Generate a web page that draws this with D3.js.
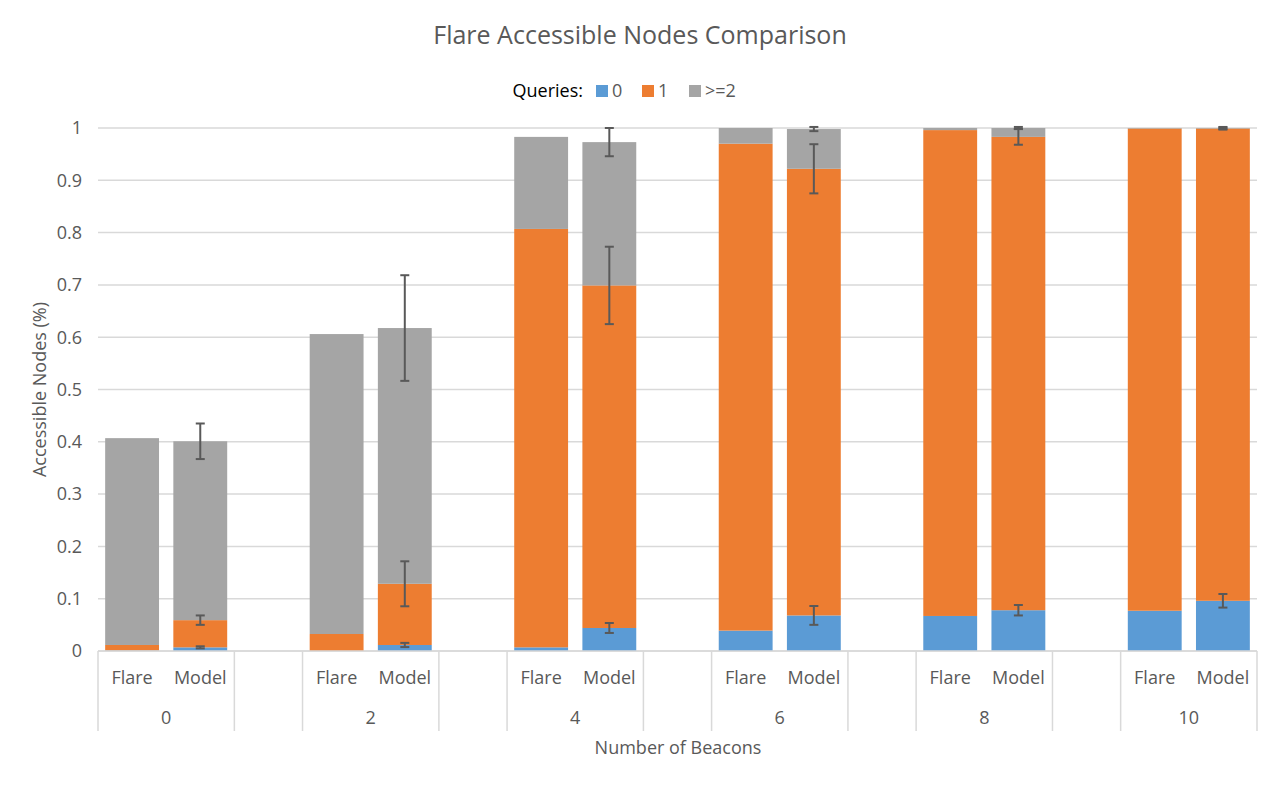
<!DOCTYPE html>
<html>
<head>
<meta charset="utf-8">
<script src="https://cdn.jsdelivr.net/npm/d3@7"></script>
<style>
  body { margin: 0; background: #fff; }
  text { font-family: "Open Sans", "Noto Sans", sans-serif; fill: #595959; }
</style>
</head>
<body>
<div id="chart"></div>
<script>
// Groups along the x-axis (number of beacons) and the two sources in each.
var groups = ["0", "2", "4", "6", "8", "10"];
var sources = ["Flare", "Model"];
var seriesNames = ["0", "1", ">=2"];
var seriesColors = ["#5B9BD5", "#ED7D31", "#A5A5A5"];

// Stacked segment sizes, one value per group.
var flareQ0 = [0.001, 0.000, 0.007, 0.039, 0.067, 0.077];
var flareQ1 = [0.0105, 0.0325, 0.800, 0.931, 0.929, 0.922];
var flareQ2 = [0.3955, 0.5735, 0.176, 0.030, 0.004, 0.001];

var modelQ0 = [0.007, 0.0115, 0.044, 0.068, 0.078, 0.096];
var modelQ1 = [0.052, 0.117, 0.655, 0.854, 0.905, 0.903];
var modelQ2 = [0.342, 0.489, 0.274, 0.076, 0.017, 0.001];

// Model error bars (+/-) drawn at the top of each stacked series.
var modelErr0 = [0.002, 0.004, 0.0095, 0.018, 0.010, 0.013];
var modelErr1 = [0.009, 0.043, 0.074, 0.047, 0.015, 0.002];
var modelErr2 = [0.034, 0.101, 0.027, 0.004, 0.002, 0.002];

var yTicks = [0, 0.1, 0.2, 0.3, 0.4, 0.5, 0.6, 0.7, 0.8, 0.9, 1];

var width = 1280, height = 786;
var plotLeft = 98, plotRight = 1257, plotTop = 128, plotBottom = 651;

var svg = d3.select("#chart").append("svg")
    .attr("width", width)
    .attr("height", height);

// Build the slot list: Flare, Model for each group, with an empty slot between groups.
var slots = [];
groups.forEach(function(g, gi) {
    sources.forEach(function(s) { slots.push({key: g + "|" + s, group: g, gi: gi, source: s}); });
    if (gi < groups.length - 1) slots.push({key: "gap" + gi, group: "", gi: gi, source: null});
});

var x = d3.scaleBand()
    .domain(slots.map(function(d) { return d.key; }))
    .range([plotLeft, plotRight])
    .paddingInner(0.21)
    .paddingOuter(0.105);

var y = d3.scaleLinear().domain([0, 1]).range([plotBottom, plotTop]);

// Gridlines
svg.append("g")
    .selectAll("line")
    .data(yTicks)
    .enter().append("line")
    .attr("x1", plotLeft).attr("x2", plotRight)
    .attr("y1", function(d) { return y(d); })
    .attr("y2", function(d) { return y(d); })
    .attr("stroke", "#D9D9D9")
    .attr("stroke-width", 1.5);

// Y tick labels
svg.append("g")
    .selectAll("text")
    .data(yTicks)
    .enter().append("text")
    .attr("x", 82)
    .attr("y", function(d) { return y(d); })
    .attr("dy", "0.35em")
    .attr("text-anchor", "end")
    .style("font-size", "18px")
    .text(function(d) { return d; });

// Stack the data
var rows = [];
groups.forEach(function(g, i) {
    rows.push({key: g + "|Flare", v: [flareQ0[i], flareQ1[i], flareQ2[i]], err: null});
    rows.push({key: g + "|Model", v: [modelQ0[i], modelQ1[i], modelQ2[i]], err: [modelErr0[i], modelErr1[i], modelErr2[i]]});
});

rows.forEach(function(r) {
    var base = 0;
    r.segs = r.v.map(function(val, si) {
        var s = {y0: base, y1: base + val, si: si};
        base += val;
        return s;
    });
});

var barG = svg.append("g");
rows.forEach(function(r) {
    barG.selectAll(null)
        .data(r.segs)
        .enter().append("rect")
        .attr("x", x(r.key))
        .attr("width", x.bandwidth())
        .attr("y", function(d) { return y(d.y1); })
        .attr("height", function(d) { return y(d.y0) - y(d.y1); })
        .attr("fill", function(d) { return seriesColors[d.si]; });
});

// Error bars
var errG = svg.append("g");
var capW = 4.5;
rows.filter(function(r) { return r.err; }).forEach(function(r) {
    var cx = x(r.key) + x.bandwidth() / 2;
    r.segs.forEach(function(s, si) {
        var e = r.err[si];
        var hi = y(s.y1 + e), lo = y(s.y1 - e);
        errG.append("line").attr("x1", cx).attr("x2", cx).attr("y1", hi).attr("y2", lo);
        errG.append("line").attr("x1", cx - capW).attr("x2", cx + capW).attr("y1", hi).attr("y2", hi);
        errG.append("line").attr("x1", cx - capW).attr("x2", cx + capW).attr("y1", lo).attr("y2", lo);
    });
});
errG.selectAll("line").attr("stroke", "#595959").attr("stroke-width", 2);

// Category axis: baseline, separators, labels
var axisG = svg.append("g");
axisG.append("line")
    .attr("x1", plotLeft).attr("x2", plotRight)
    .attr("y1", plotBottom).attr("y2", plotBottom)
    .attr("stroke", "#D9D9D9").attr("stroke-width", 1.5);

var step = x.step();
var boundaries = [plotLeft];
slots.forEach(function(s, i) {
    if (s.source === "Model" || s.source === null) boundaries.push(plotLeft + (i + 1) * step);
});
axisG.selectAll(null)
    .data(boundaries)
    .enter().append("line")
    .attr("x1", function(d) { return d; }).attr("x2", function(d) { return d; })
    .attr("y1", plotBottom).attr("y2", 731)
    .attr("stroke", "#D9D9D9").attr("stroke-width", 1.5);

axisG.selectAll(null)
    .data(slots.filter(function(s) { return s.source; }))
    .enter().append("text")
    .attr("x", function(d) { return x(d.key) + x.bandwidth() / 2; })
    .attr("y", 678)
    .attr("dy", "0.35em")
    .attr("text-anchor", "middle")
    .style("font-size", "18px")
    .text(function(d) { return d.source; });

axisG.selectAll(null)
    .data(groups)
    .enter().append("text")
    .attr("x", function(g) {
        return (x(g + "|Flare") + x(g + "|Model") + x.bandwidth()) / 2;
    })
    .attr("y", 718)
    .attr("dy", "0.35em")
    .attr("text-anchor", "middle")
    .style("font-size", "18px")
    .text(function(g) { return g; });

// Title
svg.append("text")
    .attr("x", 640).attr("y", 35)
    .attr("dy", "0.35em")
    .attr("text-anchor", "middle")
    .style("font-size", "25px")
    .text("Flare Accessible Nodes Comparison");

// Axis titles
svg.append("text")
    .attr("x", 678).attr("y", 748)
    .attr("dy", "0.35em")
    .attr("text-anchor", "middle")
    .style("font-size", "18px")
    .text("Number of Beacons");

svg.append("text")
    .attr("transform", "translate(40," + ((plotTop + plotBottom) / 2) + ") rotate(-90)")
    .attr("dy", "0.35em")
    .attr("text-anchor", "middle")
    .style("font-size", "18px")
    .text("Accessible Nodes (%)");

// Legend
var legend = svg.append("g");
legend.append("text")
    .attr("x", 583).attr("y", 91)
    .attr("dy", "0.35em")
    .attr("text-anchor", "end")
    .style("font-size", "18px")
    .style("fill", "#000")
    .text("Queries:");
var legendX = [596, 642, 689];
seriesNames.forEach(function(name, i) {
    legend.append("rect")
        .attr("x", legendX[i]).attr("y", 85)
        .attr("width", 12).attr("height", 12)
        .attr("fill", seriesColors[i]);
    legend.append("text")
        .attr("x", legendX[i] + 16).attr("y", 91)
        .attr("dy", "0.35em")
        .style("font-size", "18px")
        .text(name);
});
</script>
</body>
</html>
